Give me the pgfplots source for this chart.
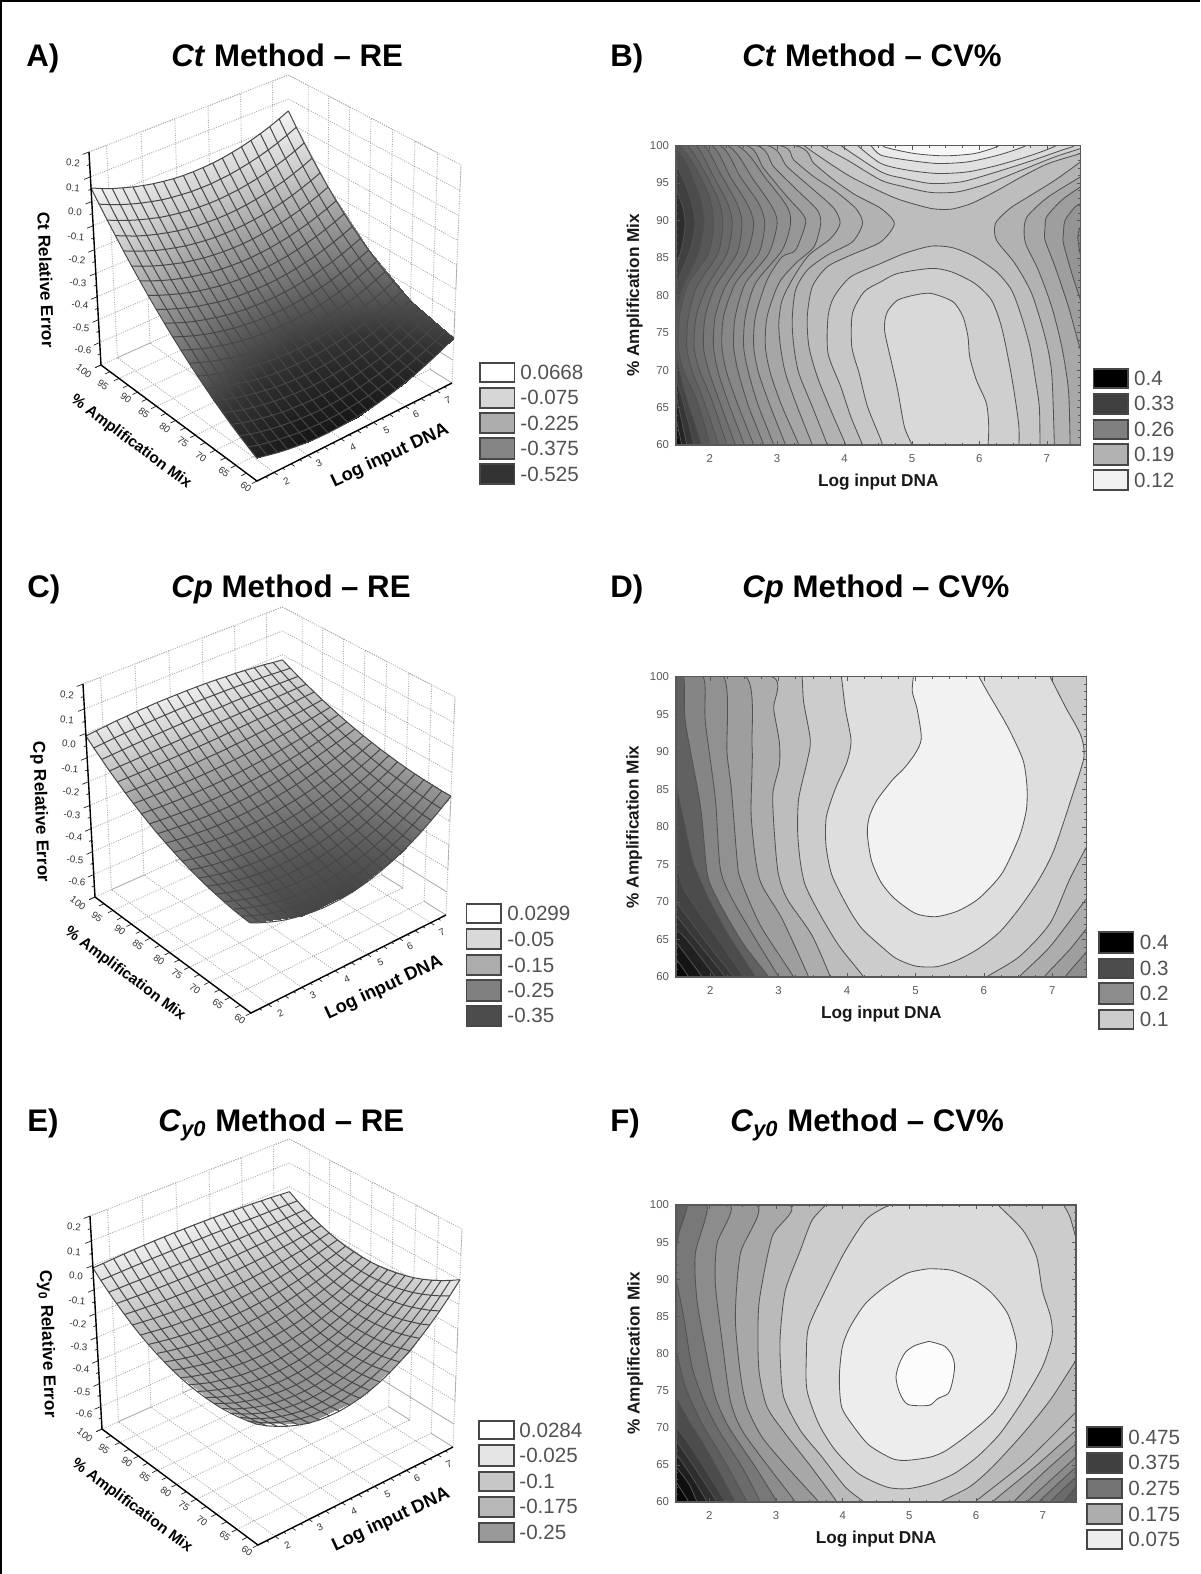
\documentclass[border=0pt]{standalone}
\usepackage{fontspec}
\setmainfont{Liberation Sans}
\usepackage{pgfplots}
\usepackage{pgfplotstable}
\pgfplotsset{compat=1.18}
\pgfmathdeclarefunction{hsx}{3}{\pgfmathparse{(101+204.26*#1+134.85*#2-16.97*#3)/(1+0.056*#1-0.0823*#2-0.0558*#3)}}
\pgfmathdeclarefunction{hsy}{3}{\pgfmathparse{(365-68.48*#1+76.41*#2-221.48*#3)/(1+0.056*#1-0.0823*#2-0.0558*#3)}}
\pgfplotsset{
 /pgfplots/table/proj/.style={header=false,
  x expr={hsx((\thisrowno{0}-1.5)/6,(100-\thisrowno{1})/40,(\thisrowno{2}+0.7)/0.9)},
  y expr={hsy((\thisrowno{0}-1.5)/6,(100-\thisrowno{1})/40,(\thisrowno{2}+0.7)/0.9)}},
 /pgfplots/table/gridproj/.style={header=false,x index=0,y index=0,
  x expr={hsx(mod(\coordindex,\N)/(\N-1),floor((\coordindex+0.5)/\N)/(\N-1),(\thisrowno{0}+0.7)/0.9)},
  y expr={hsy(mod(\coordindex,\N)/(\N-1),floor((\coordindex+0.5)/\N)/(\N-1),(\thisrowno{0}+0.7)/0.9)}},
 panel3d/.style={scale only axis,width=300pt,height=260pt,xmin=0,xmax=600,ymin=0,ymax=520,y dir=reverse,hide axis,clip=false,anchor=north west},
 cont/.style={scale only axis,anchor=south west,xmin=1.5,xmax=7.5,ymin=60,ymax=100,axis on top,
  xtick={2,...,7},ytick={60,65,...,100},minor x tick num=3,minor y tick num=4,tick align=inside,
  major tick length=2pt,minor tick length=1.2pt,tick style={black!65,line width=.3pt},
  axis line style={draw=black!65,line width=.7pt},
  /pgf/number format/assume math mode=true,
  tick label style={font=\fontsize{5.7}{7}\selectfont,text=black!65},
  xticklabel style={yshift=-1.2pt},
  xlabel=Log input DNA,ylabel={\%  Amplification Mix},
  label style={font=\fontsize{8.6}{10}\selectfont\bfseries,text=black!90},
  xlabel style={at={(axis description cs:0.5,-0.125)},anchor=center},
  ylabel style={at={(axis description cs:-0.102,0.5)},anchor=center,rotate=0},
  },
 griddot/.style={draw=black!32,line width=.45pt,dash pattern=on .5pt off .7pt},
 meshl/.style={draw=black!72,line width=.5pt,mark=none}
}
\tikzset{tl/.style={font=\fontsize{4.9}{6}\selectfont,text=black!80,inner sep=0pt}}
\newcommand\ct[2]{\addplot[fill=black!#1,draw=black!68,line width=.42pt,smooth,tension=.45] coordinates {#2};}
\newcommand\griddots{%
\addplot[griddot] table[proj]{\gridtab};}
\newcommand\meshlines[2]{%
 \pgfplotsinvokeforeach{0,...,20}{\addplot[meshl] table[header=false,x index=0,y index=0,
  x expr={hsx(##1/20,\coordindex/20,(\thisrowno{##1}/1000+0.7)/0.9)},
  y expr={hsy(##1/20,\coordindex/20,(\thisrowno{##1}/1000+0.7)/0.9)}]{#1};}
 \pgfplotsinvokeforeach{1,...,21}{\addplot[meshl] table[header=false,x index=0,y index=0,
  x expr={hsx(\coordindex/20,(##1-1)/20,(\thisrowno{##1}/1000+0.7)/0.9)},
  y expr={hsy(\coordindex/20,(##1-1)/20,(\thisrowno{##1}/1000+0.7)/0.9)}]{#2};}
}
\pgfplotstableread[header=false]{
1.5 100 -.7
1.5 100 .2
2 100 .2
2 100 -.7
3 100 -.7
3 100 .2
4 100 .2
4 100 -.7
5 100 -.7
5 100 .2
6 100 .2
6 100 -.7
7 100 -.7
7 100 .2
7.5 100 .2
7.5 95 .2
7.5 95 -.7
7.5 90 -.7
7.5 90 .2
7.5 85 .2
7.5 85 -.7
7.5 80 -.7
7.5 80 .2
7.5 75 .2
7.5 75 -.7
7.5 70 -.7
7.5 70 .2
7.5 65 .2
7.5 65 -.7
7.5 60 -.7
7.5 60 .2
7.5 60 .1
7.5 100 .1
1.5 100 .1
1.5 100 0
7.5 100 0
7.5 60 0
7.5 60 -.1
7.5 100 -.1
1.5 100 -.1
1.5 100 -.2
7.5 100 -.2
7.5 60 -.2
7.5 60 -.3
7.5 100 -.3
1.5 100 -.3
1.5 100 -.4
7.5 100 -.4
7.5 60 -.4
7.5 60 -.5
7.5 100 -.5
1.5 100 -.5
1.5 100 -.6
7.5 100 -.6
7.5 60 -.6
7.5 100 -.6
7.5 100 -.7
1.5 100 -.7
1.5 95 -.7
7.5 95 -.7
7.5 90 -.7
1.5 90 -.7
1.5 85 -.7
7.5 85 -.7
7.5 80 -.7
1.5 80 -.7
1.5 75 -.7
7.5 75 -.7
7.5 70 -.7
1.5 70 -.7
1.5 65 -.7
7.5 65 -.7
7.5 60 -.7
2 60 -.7
2 100 -.7
3 100 -.7
3 60 -.7
4 60 -.7
4 100 -.7
5 100 -.7
5 60 -.7
6 60 -.7
6 100 -.7
7 100 -.7
7 60 -.7
}\gridtab
\pgfplotstableread[header=false]{
1.5 100 -.7
1.5 100 .2
1.5 100 -.7
1.5 60 -.7
7.5 60 -.7
}\frametab
\newcommand\axesdeco{%
 \addplot[griddot] table[proj,row sep=\\]{1.5 100 .2\\7.5 100 .2\\7.5 60 .2\\};
 \pgfplotsinvokeforeach{1.75,2.25,...,7.25}{\addplot[black!85,line width=.35pt] table[proj,row sep=\\]{##1 60 -.7\\##1 59.5 -.7\\};}
 \pgfplotsinvokeforeach{2,2.5,...,7}{\addplot[black!85,line width=.35pt] table[proj,row sep=\\]{##1 60 -.7\\##1 59.2 -.7\\};}
 \pgfplotsinvokeforeach{60,62.5,...,100}{\addplot[black!85,line width=.35pt] table[proj,row sep=\\]{1.5 ##1 -.7\\1.35 ##1 -.7\\};}
 \pgfplotsinvokeforeach{-.65,-.55,-.45,-.35,-.25,-.15,-.05,.05,.15}{\addplot[black!85,line width=.35pt] table[proj,row sep=\\]{1.5 100 ##1\\1.42 100 ##1\\};}
 \pgfplotsinvokeforeach{-.7,-.6,-.5,-.4,-.3,-.2,-.1,0,.1,.2}{\addplot[black!85,line width=.35pt] table[proj,row sep=\\]{1.5 100 ##1\\1.32 100 ##1\\};}
 \addplot[black,line width=.7pt] table[proj]{\frametab};
}
\newcommand\labelsdeco[1]{%
 \foreach \a/\b/\t in {286.5/481.7/2,319/463/3,353/447.7/4,386.5/430.7/5,416/414/6,448/400/7}
  {\edef\temp{\noexpand\node[tl,rotate=25] at (axis cs:\a,\b) {\t};}\temp}
 \foreach \a/\b/\t in {84/371/100,103/385/95,126/398/90,144/413/85,165/428/80,183/442/75,201/457/70,224/472/65,246/487/60}
  {\edef\temp{\noexpand\node[tl,rotate=-37] at (axis cs:\a,\b) {\t};}\temp}
 \foreach \a/\b/\t in {73/163/0.2,73/188/0.1,75/212/0.0,76/237/-0.1,77/260/-0.2,78/283/-0.3,80/305/-0.4,81/328/-0.5,83/350/-0.6}
  {\edef\temp{\noexpand\node[tl,rotate=-5] at (axis cs:\a,\b) {\t};}\temp}
 \node[font=\fontsize{8.6}{10}\selectfont\bfseries,rotate=-88,inner sep=0pt] at (axis cs:46,280) {#1 Relative Error};
 \node[font=\fontsize{9.1}{10}\selectfont\bfseries,rotate=25,inner sep=0pt] at (axis cs:390,456) {Log input DNA};
 \node[font=\fontsize{7.7}{10}\selectfont\bfseries,rotate=-36.6,inner sep=0pt] at (axis cs:131,442) {\%  Amplification Mix};
}
\newcommand\sw[7]{\draw[draw=black!72,line width=.85pt,fill=black!#6] (#1,#4) rectangle (#2,#5);
 \node[anchor=west,inner sep=0pt,font=\fontsize{10.3}{12}\selectfont,text=black!68] at ({#3-2},{(#4+#5)/2}) {#7};}
\newcommand\ttl[4]{\node[anchor=base west,inner sep=0pt,font=\fontsize{15.6}{18}\selectfont\bfseries] at (#1,#2) {#3};}
\def\N{5}
\pgfplotstableread[header=false]{
.055
-.0194
-.045
-.0219
.05
-.162
-.2376
-.2658
-.2465
-.1799
-.344
-.4141
-.4383
-.4166
-.349
-.491
-.5494
-.5632
-.5326
-.4574
-.603
-.643
-.64
-.594
-.505
}\tabA
\pgfplotstableread[header=false]{
-.01
.0065
.01
.0005
-.022
-.1407
-.1416
-.1347
-.1201
-.0977
-.237
-.2586
-.2515
-.2161
-.152
-.2992
-.3445
-.3405
-.2872
-.1847
-.327
-.3993
-.4015
-.3338
-.196
}\tabC
\pgfplotstableread[header=false]{
-.01
-.0012
0
-.0067
-.021
-.141
-.1593
-.159
-.1404
-.1032
-.217
-.2614
-.2613
-.2164
-.127
-.238
-.3079
-.307
-.2352
-.0927
-.204
-.2985
-.296
-.1965
0
}\tabE
\pgfplotstableread[header=false]{
55 36 19 5 -8 -19 -28 -35 -41 -44 -45 -44 -42 -37 -30 -22 -11 1 15 32 50
9 -10 -27 -42 -55 -66 -76 -83 -88 -92 -93 -93 -90 -86 -79 -71 -61 -49 -35 -19 -1
-36 -55 -72 -87 -100 -112 -121 -128 -134 -137 -139 -139 -136 -132 -126 -118 -108 -96 -83 -67 -49
-79 -98 -116 -131 -144 -155 -165 -172 -178 -181 -183 -183 -181 -177 -171 -163 -153 -142 -128 -113 -95
-121 -140 -157 -173 -186 -197 -207 -214 -220 -224 -225 -225 -223 -219 -214 -206 -196 -185 -171 -156 -139
-162 -181 -198 -213 -226 -238 -247 -255 -260 -264 -266 -266 -264 -260 -254 -247 -237 -226 -212 -197 -180
-201 -220 -237 -252 -265 -276 -285 -293 -298 -302 -304 -304 -302 -298 -292 -285 -275 -264 -251 -236 -219
-239 -258 -274 -289 -302 -313 -322 -330 -335 -339 -340 -340 -338 -334 -329 -321 -311 -300 -287 -272 -255
-275 -294 -310 -325 -338 -348 -358 -365 -370 -373 -375 -375 -373 -369 -363 -355 -346 -334 -321 -306 -289
-310 -328 -345 -359 -371 -382 -391 -398 -403 -406 -408 -407 -405 -401 -395 -387 -377 -366 -352 -337 -320
-344 -362 -378 -392 -404 -414 -423 -429 -434 -437 -438 -438 -435 -431 -425 -417 -407 -395 -382 -366 -349
-376 -393 -409 -423 -434 -445 -453 -459 -464 -466 -467 -467 -464 -459 -453 -444 -434 -422 -409 -393 -376
-407 -424 -439 -452 -463 -473 -481 -487 -491 -493 -494 -493 -490 -485 -478 -469 -459 -447 -433 -417 -400
-436 -453 -467 -480 -491 -500 -507 -513 -517 -519 -519 -517 -514 -508 -501 -493 -482 -469 -455 -439 -421
-464 -480 -494 -506 -517 -526 -533 -538 -541 -542 -542 -540 -536 -530 -523 -514 -503 -490 -475 -459 -441
-491 -506 -520 -531 -541 -549 -556 -560 -563 -564 -563 -561 -556 -550 -542 -533 -521 -508 -493 -476 -457
-516 -531 -544 -555 -564 -571 -577 -581 -583 -584 -582 -579 -574 -568 -559 -549 -537 -524 -508 -491 -472
-540 -554 -566 -576 -585 -592 -597 -600 -602 -602 -600 -596 -590 -583 -574 -564 -551 -537 -521 -503 -484
-562 -576 -587 -597 -604 -611 -615 -618 -619 -618 -615 -611 -605 -597 -587 -576 -563 -548 -532 -513 -493
-583 -596 -606 -615 -622 -628 -631 -633 -633 -632 -628 -623 -617 -608 -598 -586 -572 -557 -540 -521 -500
-603 -614 -624 -632 -638 -643 -646 -647 -646 -644 -640 -634 -627 -618 -607 -594 -580 -564 -546 -526 -505
}\meshA
\pgfplotstableread[header=false]{
-10 -6 -2 2 4 7 8 10 10 10 10 9 8 6 3 1 -3 -7 -11 -17 -22
-39 -36 -33 -30 -28 -26 -24 -23 -22 -21 -21 -21 -22 -23 -24 -26 -28 -30 -33 -36 -39
-66 -64 -62 -60 -58 -56 -55 -54 -53 -52 -51 -51 -51 -50 -50 -51 -51 -52 -53 -54 -55
-93 -91 -90 -89 -87 -86 -85 -84 -82 -81 -80 -79 -78 -77 -76 -75 -74 -73 -72 -71 -70
-117 -117 -117 -116 -115 -114 -113 -112 -111 -110 -108 -106 -104 -102 -100 -98 -96 -93 -90 -87 -84
-141 -142 -142 -142 -142 -142 -141 -140 -138 -137 -135 -132 -130 -127 -124 -120 -116 -112 -108 -103 -98
-163 -165 -166 -167 -167 -167 -167 -166 -165 -163 -160 -157 -154 -150 -146 -141 -136 -130 -124 -117 -110
-183 -186 -189 -191 -192 -192 -192 -191 -190 -188 -185 -181 -177 -173 -167 -161 -155 -148 -140 -131 -122
-203 -207 -210 -213 -215 -216 -216 -215 -214 -211 -208 -204 -200 -194 -188 -181 -173 -164 -154 -144 -133
-221 -226 -230 -234 -236 -238 -238 -238 -236 -234 -230 -226 -221 -214 -207 -199 -190 -179 -168 -156 -143
-237 -244 -249 -253 -257 -259 -259 -259 -258 -255 -252 -247 -241 -234 -225 -216 -206 -194 -181 -167 -152
-252 -260 -266 -272 -276 -278 -280 -279 -278 -275 -272 -266 -260 -252 -243 -232 -221 -207 -193 -177 -160
-266 -275 -283 -289 -293 -297 -298 -299 -297 -295 -291 -285 -278 -269 -259 -247 -234 -220 -204 -187 -168
-278 -289 -298 -305 -310 -314 -316 -316 -315 -313 -308 -302 -295 -285 -274 -262 -247 -232 -214 -195 -174
-289 -301 -311 -319 -325 -330 -332 -333 -332 -329 -325 -319 -310 -300 -289 -275 -260 -242 -223 -203 -180
-299 -312 -323 -332 -339 -345 -348 -349 -348 -345 -340 -334 -325 -314 -302 -287 -271 -252 -232 -209 -185
-307 -322 -334 -344 -352 -358 -362 -363 -362 -360 -355 -348 -339 -327 -314 -299 -281 -261 -239 -215 -189
-314 -330 -344 -355 -364 -370 -374 -376 -376 -373 -368 -361 -352 -339 -325 -309 -290 -269 -245 -220 -192
-320 -337 -352 -364 -374 -381 -386 -388 -388 -386 -381 -373 -363 -351 -336 -318 -298 -276 -251 -224 -194
-324 -343 -359 -372 -383 -391 -396 -399 -399 -397 -392 -384 -373 -360 -345 -326 -306 -282 -256 -227 -196
-327 -347 -364 -379 -390 -399 -405 -409 -409 -407 -402 -394 -383 -369 -353 -334 -312 -287 -259 -229 -196
}\meshC
\pgfplotstableread[header=false]{
-10 -8 -6 -4 -2 -1 0 0 1 0 0 -1 -2 -3 -5 -7 -9 -12 -14 -18 -21
-41 -40 -39 -38 -38 -37 -37 -37 -36 -36 -36 -36 -37 -37 -37 -38 -39 -39 -40 -41 -42
-69 -70 -70 -71 -71 -71 -71 -71 -71 -71 -70 -70 -69 -69 -68 -67 -66 -65 -64 -62 -61
-95 -97 -99 -101 -102 -103 -103 -103 -103 -103 -102 -101 -100 -98 -96 -94 -91 -88 -85 -81 -77
-119 -123 -126 -129 -131 -132 -133 -134 -133 -133 -132 -130 -128 -125 -122 -118 -114 -110 -104 -98 -91
-141 -146 -151 -154 -157 -159 -161 -161 -161 -161 -159 -157 -154 -150 -146 -140 -134 -128 -120 -112 -103
-161 -167 -173 -178 -181 -184 -186 -187 -187 -186 -184 -181 -177 -173 -167 -160 -153 -144 -134 -124 -113
-178 -186 -193 -199 -203 -207 -209 -210 -210 -209 -207 -203 -199 -193 -186 -178 -168 -158 -146 -134 -120
-193 -203 -211 -218 -223 -227 -230 -231 -231 -230 -227 -223 -218 -211 -202 -193 -182 -170 -156 -141 -124
-206 -217 -227 -235 -241 -246 -249 -250 -250 -249 -245 -241 -234 -226 -217 -206 -193 -179 -163 -146 -127
-217 -230 -240 -249 -256 -261 -265 -267 -267 -265 -261 -256 -249 -240 -229 -216 -202 -186 -168 -149 -127
-226 -240 -251 -261 -269 -275 -279 -281 -281 -279 -275 -269 -261 -251 -239 -225 -209 -191 -171 -149 -125
-232 -247 -261 -271 -280 -287 -291 -293 -293 -291 -286 -280 -271 -260 -246 -231 -213 -193 -171 -147 -120
-236 -253 -267 -279 -289 -296 -301 -303 -303 -300 -296 -288 -278 -266 -252 -235 -215 -193 -169 -142 -113
-238 -256 -272 -285 -295 -303 -308 -311 -311 -308 -302 -294 -284 -270 -255 -236 -215 -191 -165 -136 -104
-238 -258 -275 -288 -300 -308 -313 -316 -316 -313 -307 -298 -287 -272 -255 -235 -212 -187 -158 -127 -93
-236 -257 -275 -290 -302 -311 -316 -319 -319 -316 -309 -300 -288 -272 -254 -232 -207 -180 -149 -116 -79
-231 -254 -273 -289 -301 -311 -317 -320 -320 -316 -309 -299 -286 -269 -250 -227 -200 -171 -138 -102 -63
-224 -248 -269 -286 -299 -309 -316 -319 -318 -314 -307 -296 -282 -265 -244 -219 -191 -159 -124 -86 -44
-215 -241 -262 -280 -294 -305 -312 -315 -315 -311 -303 -291 -276 -257 -235 -209 -179 -146 -109 -68 -23
-204 -231 -253 -272 -287 -299 -306 -309 -309 -304 -296 -284 -268 -248 -224 -197 -165 -129 -90 -47 0
}\meshE
\pgfplotstabletranspose\meshAt{\meshA}
\pgfplotstabletranspose\meshCt{\meshC}
\pgfplotstabletranspose\meshEt{\meshE}
\begin{document}
\begin{tikzpicture}[x=0.5pt,y=-0.5pt]
\useasboundingbox (0,0) rectangle (1200,1574);
\fill[white] (0,0) rectangle (1200,1574);
\ttl{26}{66}{A)}{} \ttl{171}{66}{\textit{Ct} Method – RE}{}
\ttl{610}{66}{B)}{} \ttl{742}{66}{\textit{Ct} Method – CV\%}{}
\ttl{27}{597}{C)}{} \ttl{171}{597}{\textit{Cp} Method – RE}{}
\ttl{610}{597}{D)}{} \ttl{742}{597}{\textit{Cp} Method – CV\%}{}
\ttl{27}{1131}{E)}{} \ttl{158}{1131}{\textit{C}\textsubscript{\textit{y0}} Method – RE}{}
\ttl{610}{1131}{F)}{} \ttl{730}{1131}{\textit{C}\textsubscript{\textit{y0}} Method – CV\%}{}
% A
\begin{axis}[panel3d,at={(0pt,0pt)},colormap={mA}{gray(0cm)=(.08);gray(12.5cm)=(.2);gray(27.5cm)=(.46);gray(42.5cm)=(.66);gray(57.5cm)=(.84);gray(71.7cm)=(.97)},point meta min=-.65,point meta max=.0668]
\griddots
\addplot[surf,shader=interp,mesh/cols=\N,point meta=\thisrowno{0}] table[gridproj]{\tabA};
\meshlines{\meshA}{\meshAt}
\axesdeco
\labelsdeco{Ct}
\end{axis}
% C
\begin{axis}[panel3d,at={(-3pt,-266pt)},colormap={mC}{gray(0cm)=(.25);gray(7cm)=(.33);gray(17cm)=(.5);gray(27cm)=(.66);gray(37cm)=(.84);gray(45cm)=(.96)},point meta min=-.42,point meta max=.03]
\griddots
\addplot[surf,shader=interp,mesh/cols=\N,point meta=\thisrowno{0}] table[gridproj]{\tabC};
\meshlines{\meshC}{\meshCt}
\axesdeco
\labelsdeco{Cp}
\end{axis}
% E
\begin{axis}[panel3d,at={(.5pt,-532pt)},colormap={mE}{gray(0cm)=(.56);gray(7cm)=(.63);gray(14.5cm)=(.72);gray(22cm)=(.81);gray(29.5cm)=(.9);gray(34.84cm)=(.97)},point meta min=-.32,point meta max=.0284]
\griddots
\addplot[surf,shader=interp,mesh/cols=\N,point meta=\thisrowno{0}] table[gridproj]{\tabE};
\meshlines{\meshE}{\meshEt}
\axesdeco
\labelsdeco{Cy\textsubscript{0}}
\end{axis}
% B
\begin{axis}[cont,at={(338pt,-222.5pt)},width=202.25pt,height=149.75pt,axis background/.style={fill=black!26},
 x filter/.expression={1.5+(x-18)/201.33},y filter/.expression={60+(915-y)/22.475}]
\ct{22}{(575,930)(575,915)(540,830)(510,740)(472,640)(472,530)(490,470)(540,410)(630,370)(700,340)(780,318)(845,323)(910,350)(975,395)(1020,450)(1050,530)(1075,620)(1090,710)(1103,800)(1105,915)(1105,930)}
\ct{19}{(638,930)(630,900)(590,800)(565,700)(543,620)(545,520)(580,455)(630,425)(680,400)(780,385)(840,395)(910,430)(960,480)(990,560)(1015,680)(1030,770)(1042,860)(1042,930)}
\ct{15}{(723,930)(723,915)(700,860)(680,750)(660,660)(642,580)(642,540)(652,510)(680,480)(730,465)(780,460)(845,485)(875,530)(890,590)(895,650)(915,720)(945,790)(952,860)(950,915)(950,930)}
\ct{22}{(390,0)(400,16)(470,65)(540,110)(630,155)(690,180)(780,205)(840,207)(900,190)(970,155)(1050,110)(1130,70)(1226,40)(1240,32)(1240,0)}
\ct{19}{(440,0)(450,16)(530,60)(630,120)(700,140)(780,157)(860,155)(950,130)(1050,90)(1150,50)(1226,25)(1240,15)(1240,0)}
\ct{15}{(500,0)(510,16)(630,95)(700,115)(780,130)(870,125)(960,100)(1070,65)(1170,30)(1205,18)(1210,0)}
\ct{12}{(550,0)(560,16)(630,70)(710,90)(800,100)(890,95)(980,75)(1080,45)(1150,18)(1160,0)}
\ct{8}{(590,0)(600,16)(630,45)(710,60)(800,70)(890,65)(980,45)(1060,18)(1070,0)}
\ct{3}{(630,0)(640,20)(730,40)(820,47)(910,40)(980,18)(990,0)}
\ct{30}{(0,0)(370,16)(430,70)(490,120)(555,165)(630,205)(670,250)(630,305)(540,345)(470,380)(425,440)(410,530)(415,620)(440,710)(480,810)(525,915)(525,930)(0,930)}
\ct{32}{(0,0)(325,16)(370,60)(430,110)(490,150)(555,205)(575,250)(545,305)(470,345)(410,390)(375,450)(365,540)(370,620)(385,700)(425,800)(470,915)(470,930)(0,930)}
\ct{35}{(0,0)(290,16)(350,80)(430,150)(490,205)(508,250)(480,295)(415,345)(370,410)(335,480)(325,550)(330,620)(345,700)(380,800)(425,915)(425,930)(0,930)}
\ct{38}{(0,0)(258,16)(310,80)(380,150)(440,210)(450,250)(430,320)(375,370)(325,430)(290,530)(285,620)(300,700)(335,800)(385,915)(385,930)(0,930)}
\ct{41}{(0,0)(228,16)(280,85)(350,170)(395,220)(405,250)(375,330)(335,350)(290,420)(255,530)(250,620)(265,700)(300,800)(345,915)(345,930)(0,930)}
\ct{44}{(0,0)(200,16)(290,120)(350,200)(360,250)(335,330)(255,430)(225,530)(220,620)(235,700)(265,800)(310,915)(310,930)(0,930)}
\ct{47}{(0,0)(172,16)(250,120)(305,200)(320,250)(295,340)(225,430)(195,530)(190,620)(205,700)(235,800)(280,915)(280,930)(0,930)}
\ct{50}{(0,0)(150,16)(210,110)(265,190)(283,250)(265,340)(195,430)(160,530)(155,620)(170,700)(205,800)(250,915)(250,930)(0,930)}
\ct{53}{(0,0)(125,16)(180,110)(230,190)(250,250)(230,340)(165,440)(135,530)(130,620)(145,700)(175,790)(222,915)(222,930)(0,930)}
\ct{56}{(0,0)(100,16)(150,100)(200,190)(215,250)(200,340)(135,440)(105,530)(100,620)(115,690)(150,790)(195,915)(195,930)(0,930)}
\ct{59}{(0,0)(78,16)(125,100)(172,190)(186,250)(170,340)(110,440)(78,530)(72,620)(88,690)(125,780)(170,915)(170,930)(0,930)}
\ct{62}{(0,0)(52,16)(100,90)(145,180)(158,250)(143,340)(80,440)(55,530)(50,620)(65,690)(100,780)(145,915)(145,930)(0,930)}
\ct{66}{(0,0)(30,16)(75,80)(118,170)(130,250)(115,340)(55,430)(30,520)(25,620)(40,690)(80,780)(120,915)(120,930)(0,930)}
\ct{70}{(0,0)(18,25)(50,70)(90,170)(102,250)(85,340)(40,440)(18,510)(0,530)}
\ct{75}{(0,50)(18,70)(60,170)(75,250)(60,330)(18,430)(0,450)}
\ct{82}{(0,130)(18,150)(38,200)(45,250)(38,310)(18,380)(0,400)}
\ct{73}{(0,620)(18,640)(40,740)(95,915)(95,930)(0,930)}
\ct{79}{(0,700)(18,715)(40,790)(72,915)(72,930)(0,930)}
\ct{86}{(0,755)(18,770)(50,915)(50,930)(0,930)}
\ct{93}{(0,825)(18,840)(35,915)(35,930)(0,930)}
\ct{30}{(1240,50)(1226,65)(1150,120)(1070,170)(1015,205)(972,250)(975,300)(1030,370)(1080,460)(1120,590)(1140,700)(1148,915)(1148,930)(1240,930)}
\ct{34}{(1240,100)(1226,110)(1130,170)(1070,225)(1058,260)(1062,310)(1100,390)(1140,500)(1170,620)(1190,750)(1195,915)(1195,930)(1240,930)}
\ct{38}{(1240,130)(1226,140)(1170,180)(1125,230)(1120,265)(1120,300)(1150,380)(1190,500)(1226,630)(1240,660)}
\ct{42}{(1240,180)(1226,190)(1210,200)(1180,240)(1175,280)(1175,310)(1200,400)(1226,480)(1240,520)}
\ct{46}{(1240,250)(1226,260)(1218,290)(1226,345)(1240,355)}
\end{axis}
% D
\begin{axis}[cont,at={(338pt,-488.5pt)},width=205.25pt,height=150.15pt,axis background/.style={fill=black!26},
 x filter/.expression={1.5+(x-12)/205.25},y filter/.expression={60+(915-y)/22.525}]
\ct{20}{(380,0)(390,14)(395,90)(415,205)(405,270)(380,380)(377,480)(385,570)(400,640)(440,720)(500,820)(575,915)(575,930)(944,930)(944,915)(1042,854)(1134,754)(1192,624)(1244,524)(1260,500)(1260,0)}
\ct{13}{(500,0)(508,14)(520,110)(537,205)(525,270)(490,350)(463,435)(462,520)(480,610)(530,710)(570,770)(630,825)(672,859)(730,882)(794,884)(857,864)(921,829)(984,779)(1042,709)(1100,624)(1146,534)(1203,364)(1236,254)(1226,189)(1180,104)(1134,14)(1125,0)}
\ct{5}{(725,0)(724,14)(721,59)(736,114)(748,199)(730,244)(696,289)(661,324)(615,384)(592,434)(586,484)(598,564)(626,629)(667,679)(730,724)(791,734)(857,717)(921,679)(990,604)(1042,494)(1063,414)(1065,344)(1053,264)(1007,164)(949,64)(921,14)(915,0)}
\ct{32}{(1042,930)(1042,914)(1134,824)(1244,679)(1260,660)(1260,930)}
\ct{38}{(1117,930)(1117,914)(1192,834)(1244,769)(1260,750)(1260,930)}
\ct{44}{(1180,930)(1180,914)(1244,839)(1260,820)(1260,930)}
\ct{32}{(0,0)(300,14)(305,110)(322,210)(322,280)(303,360)(305,450)(318,600)(345,680)(420,790)(475,915)(475,930)(0,930)}
\ct{38}{(0,0)(222,14)(240,220)(240,300)(238,440)(262,620)(330,740)(410,915)(410,930)(0,930)}
\ct{43}{(0,0)(155,14)(165,240)(178,350)(195,560)(205,620)(265,760)(365,915)(365,930)(0,930)}
\ct{48}{(0,0)(93,14)(100,150)(130,380)(145,590)(180,680)(250,800)(320,915)(320,930)(0,930)}
\ct{62}{(0,0)(35,14)(40,150)(85,400)(105,600)(130,670)(210,810)(290,915)(290,930)(0,930)}
\ct{70}{(0,330)(12,345)(30,420)(60,560)(75,600)(110,680)(170,790)(250,915)(250,930)(0,930)}
\ct{74}{(0,570)(12,580)(35,650)(80,720)(130,790)(215,915)(215,930)(0,930)}
\ct{78}{(0,680)(12,690)(50,740)(110,820)(185,915)(185,930)(0,930)}
\ct{82}{(0,720)(12,730)(60,790)(160,915)(160,930)(0,930)}
\ct{87}{(0,760)(12,770)(50,810)(130,915)(130,930)(0,930)}
\ct{92}{(0,800)(12,810)(50,860)(90,915)(90,930)(0,930)}
\ct{97}{(0,850)(12,860)(50,915)(50,930)(0,930)}
\end{axis}
% F
\begin{axis}[cont,at={(338pt,-751pt)},width=200pt,height=148.5pt,axis background/.style={fill=black!27},
 x filter/.expression={1.5+(x-12)/200},y filter/.expression={60+(905-y)/22.275}]
\ct{20}{(450,0)(460,14)(420,60)(385,150)(340,270)(325,400)(325,480)(335,590)(385,690)(450,770)(520,860)(575,905)(575,920)(805,920)(805,905)(892,860)(961,800)(1053,700)(1134,600)(1212,480)(1230,460)(1230,0)}
\ct{26}{(1165,0)(1175,14)(1194,50)(1212,110)(1230,130)(1230,0)}
\ct{14}{(665,0)(655,14)(630,25)(580,60)(518,155)(460,270)(410,380)(403,470)(405,570)(440,670)(490,750)(560,820)(644,860)(707,865)(776,850)(846,820)(915,770)(984,700)(1053,600)(1111,500)(1140,410)(1136,350)(1111,270)(1094,170)(1053,90)(978,14)(965,0)}
\ct{7}{(771,205)(840,210)(909,240)(961,280)(1007,340)(1032,420)(1030,470)(1007,570)(961,640)(892,700)(823,750)(776,770)(705,780)(661,775)(592,735)(546,680)(509,620)(502,530)(511,440)(534,380)(580,310)(638,260)(707,218)(771,205)}
\ct{1}{(771,423)(817,437)(840,465)(848,500)(840,550)(828,580)(797,595)(771,615)(707,612)(682,575)(672,530)(682,490)(701,455)(730,435)(771,423)}
\ct{28}{(909,920)(909,905)(1065,780)(1212,635)(1230,620)(1230,920)}
\ct{34}{(961,920)(961,905)(1088,800)(1212,690)(1230,675)(1230,920)}
\ct{40}{(1025,920)(1025,905)(1111,820)(1212,730)(1230,715)(1230,920)}
\ct{46}{(1065,920)(1065,905)(1212,770)(1230,755)(1230,920)}
\ct{52}{(1100,920)(1100,905)(1212,800)(1230,785)(1230,920)}
\ct{58}{(1134,920)(1134,905)(1212,830)(1230,815)(1230,920)}
\ct{64}{(1175,920)(1175,905)(1212,860)(1230,845)(1230,920)}
\ct{34}{(0,0)(350,14)(300,110)(262,300)(258,430)(262,520)(285,620)(340,700)(410,790)(495,905)(495,920)(0,920)}
\ct{40}{(0,0)(255,14)(205,160)(190,350)(205,520)(225,620)(270,710)(345,800)(440,905)(440,920)(0,920)}
\ct{45}{(0,0)(175,14)(135,130)(130,250)(150,420)(175,600)(210,690)(290,800)(370,905)(370,920)(0,920)}
\ct{53}{(0,0)(105,14)(70,160)(75,300)(105,470)(130,590)(170,680)(250,800)(315,905)(315,920)(0,920)}
\ct{62}{(0,0)(45,14)(20,100)(12,150)(0,170)}
\ct{58}{(0,225)(12,240)(35,350)(60,500)(95,600)(140,690)(210,800)(265,905)(265,920)(0,920)}
\ct{63}{(0,440)(12,450)(40,560)(90,670)(150,770)(225,905)(225,920)(0,920)}
\ct{70}{(0,580)(12,590)(50,660)(100,740)(190,905)(190,920)(0,920)}
\ct{76}{(0,670)(12,680)(60,745)(160,905)(160,920)(0,920)}
\ct{82}{(0,710)(12,720)(60,790)(135,905)(135,920)(0,920)}
\ct{88}{(0,750)(12,760)(60,830)(105,905)(105,920)(0,920)}
\ct{94}{(0,790)(12,800)(50,850)(75,905)(75,920)(0,920)}
\ct{98}{(0,835)(12,845)(50,905)(50,920)(0,920)}
\end{axis}
% legends
\sw{480}{514.6}{522}{362.7}{382}{0}{0.0668}
\sw{480}{514.6}{522}{387.7}{407.7}{16}{-0.075}
\sw{480}{514.6}{522}{413.3}{433.3}{32}{-0.225}
\sw{480}{514.6}{522}{438.3}{459.3}{48}{-0.375}
\sw{480}{514.6}{522}{464.3}{484}{80}{-0.525}
\sw{466.5}{501}{509}{904.3}{923.3}{0}{0.0299}
\sw{466.5}{501}{509}{929.3}{949.3}{15}{-0.05}
\sw{466.5}{501}{509}{955.3}{975}{32}{-0.15}
\sw{466.5}{501}{509}{980}{1001}{50}{-0.25}
\sw{466.5}{501}{509}{1006}{1025.7}{70}{-0.35}
\sw{479}{514}{521}{1420.7}{1439.3}{0}{0.0284}
\sw{479}{514}{521}{1445.3}{1465.7}{10}{-0.025}
\sw{479}{514}{521}{1471.7}{1491}{22}{-0.1}
\sw{479}{514}{521}{1496.7}{1516.7}{28}{-0.175}
\sw{479}{514}{521}{1522.7}{1542.3}{40}{-0.25}
\sw{1093.5}{1127.7}{1135.8}{368.7}{388}{100}{0.4}
\sw{1093.5}{1127.7}{1135.8}{393.7}{414}{75}{0.33}
\sw{1093.5}{1127.7}{1135.8}{420}{439.3}{50}{0.26}
\sw{1093.5}{1127.7}{1135.8}{444.3}{465}{30}{0.19}
\sw{1093.5}{1127.7}{1135.8}{470.3}{490}{5}{0.12}
\sw{1098.8}{1133.5}{1141.5}{932.3}{953.3}{100}{0.4}
\sw{1098.8}{1133.5}{1141.5}{958.7}{978.3}{70}{0.3}
\sw{1098.8}{1133.5}{1141.5}{983.3}{1004.3}{45}{0.2}
\sw{1098.8}{1133.5}{1141.5}{1010}{1029.3}{20}{0.1}
\sw{1087.3}{1122.3}{1130}{1427.3}{1447}{100}{0.475}
\sw{1087.3}{1122.3}{1130}{1452.7}{1473}{75}{0.375}
\sw{1087.3}{1122.3}{1130}{1478.7}{1498}{55}{0.275}
\sw{1087.3}{1122.3}{1130}{1503.7}{1524.3}{32}{0.175}
\sw{1087.3}{1122.3}{1130}{1530}{1549.3}{7}{0.075}
\fill[white] (0,-2) rectangle (1200,4);
\draw[black,line width=1pt] (1,1574)--(1,1)--(1200,1);
\end{tikzpicture}
\end{document}
